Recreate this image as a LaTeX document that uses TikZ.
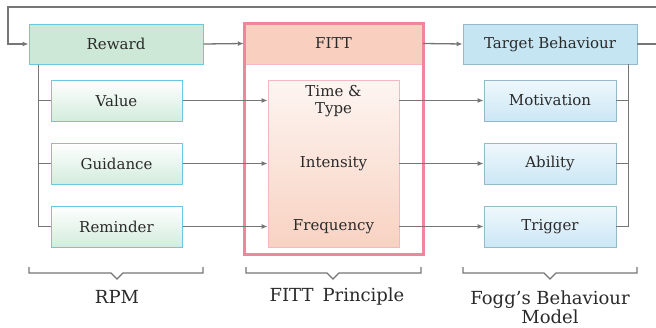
\documentclass[tikz,border=0pt]{standalone}
\usepackage{fontspec}
\setmainfont{DejaVu Serif}
\usetikzlibrary{arrows.meta}
\definecolor{lineg}{HTML}{767676}
\definecolor{txt}{HTML}{2A2A2A}
\definecolor{cyanb}{HTML}{6CC8DF}
\definecolor{greenf}{HTML}{CDE8D6}
\definecolor{greenl}{HTML}{D3ECDD}
\definecolor{pinkb}{HTML}{F0859B}
\definecolor{pinkl}{HTML}{F4B8C2}
\definecolor{salmon}{HTML}{F9CFC0}
\definecolor{peach}{HTML}{F8D2C2}
\definecolor{peachl}{HTML}{FDF5F1}
\definecolor{blueb}{HTML}{93B9CA}
\definecolor{bluef}{HTML}{C5E5F3}
\definecolor{bluel}{HTML}{CBE7F5}
\tikzset{
  x=1pt, y=1pt,
  boxtext/.style={text=txt, font=\fontsize{15}{17}\selectfont, align=center, inner sep=0pt},
  rpmhead/.style={boxtext, draw=cyanb, line width=1pt, fill=greenf, minimum width=174pt, minimum height=40pt},
  rpmitem/.style={boxtext, draw=cyanb, line width=1pt, top color=white, bottom color=greenl, minimum width=131pt, minimum height=41pt},
  fogghead/.style={boxtext, draw=blueb, line width=0.8pt, fill=bluef, minimum width=174pt, minimum height=40pt},
  foggitem/.style={boxtext, draw=blueb, line width=0.8pt, top color=white!70!bluel, bottom color=bluel, minimum width=132pt, minimum height=41pt},
  conn/.style={draw=lineg, line width=1.3pt},
  arr/.style={conn, -{Latex[length=6pt,width=5pt]}},
  bracepath/.style={draw=lineg, line width=1.3pt},
  grouplabel/.style={text=txt, font=\fontsize{18}{19}\selectfont, align=center, inner sep=0pt}
}
\begin{document}
\begin{tikzpicture}
\clip (0,0) rectangle (656,-327);
\fill[white] (0,0) rectangle (656,-327);

% RPM column
\node[rpmhead] (reward) at (116,-44) {Reward};
\node[rpmitem] (value) at (116.5,-100.5) {Value};
\node[rpmitem] (guidance) at (116.5,-163.5) {Guidance};
\node[rpmitem] (reminder) at (116.5,-226.5) {Reminder};

% FITT column
\node[draw=none, fill=salmon, minimum width=179pt, minimum height=41pt, inner sep=0pt] (fitthead) at (333.5,-43.5) {};
\draw[pinkl, line width=0.8pt] (fitthead.south west) -- (fitthead.south east);
\node[boxtext] at (fitthead) {FITT};
\node[draw=pinkl, line width=0.8pt, top color=peachl, bottom color=peach, minimum width=131pt, minimum height=167pt, inner sep=0pt] (inner) at (333.5,-163.5) {};
\node[draw=pinkb, line width=3pt, minimum width=179pt, minimum height=231pt, inner sep=0pt] (fittbox) at (333.5,-138.5) {};
\node[boxtext] (timetype) at (333.5,-101) {Time \&\\Type};
\node[boxtext] (intensity) at (333.5,-163.5) {Intensity};
\node[boxtext] (frequency) at (333.5,-226.5) {Frequency};

% Fogg column
\node[fogghead] (target) at (550,-44) {Target Behaviour};
\node[foggitem] (motivation) at (550,-100.5) {Motivation};
\node[foggitem] (ability) at (550,-163.5) {Ability};
\node[foggitem] (trigger) at (550,-226.5) {Trigger};

% feedback loop
\coordinate (loopr) at (662,-44);
\draw[arr] (target.east) -- (loopr) -- (662,-7) -- (8,-7) |- (reward.west);

% header arrows
\draw[arr] (reward.east) -- (fitthead.west);
\draw[arr] (fitthead.east) -- (target.west);

% RPM trunk
\draw[conn] ([xshift=10pt]reward.south west) |- (reminder.west);
\draw[conn] ([xshift=10pt]reward.south west) |- (value.west);
\draw[conn] ([xshift=10pt]reward.south west) |- (guidance.west);

% RPM to FITT
\draw[arr] (value.east) -- (value.east -| inner.west);
\draw[arr] (guidance.east) -- (guidance.east -| inner.west);
\draw[arr] (reminder.east) -- (reminder.east -| inner.west);

% FITT to Fogg
\draw[arr] (inner.east |- motivation.west) -- (motivation.west);
\draw[arr] (inner.east |- ability.west) -- (ability.west);
\draw[arr] (inner.east |- trigger.west) -- (trigger.west);

% Fogg trunk
\draw[conn] ([xshift=-9pt]target.south east) |- (trigger.east);
\draw[conn] ([xshift=-9pt]target.south east) |- (motivation.east);
\draw[conn] ([xshift=-9pt]target.south east) |- (ability.east);

% braces
\draw[bracepath] (29,-267) -- (29,-273) -- (111,-273) -- (117,-279) -- (123,-273) -- (203,-273) -- (203,-267);
\draw[bracepath] (246,-267) -- (246,-273) -- (327,-273) -- (333,-279) -- (339,-273) -- (421,-273) -- (421,-267);
\draw[bracepath] (463,-267) -- (463,-273) -- (544,-273) -- (550,-279) -- (556,-273) -- (637,-273) -- (637,-267);

\node[grouplabel] (rpm) at (117,-297) {RPM};
\node[grouplabel] (fittp) at (337,-297) {FITT\enspace Principle};
\node[grouplabel] (fogg) at (550,-307) {Fogg’s Behaviour\\Model};
\end{tikzpicture}
\end{document}
